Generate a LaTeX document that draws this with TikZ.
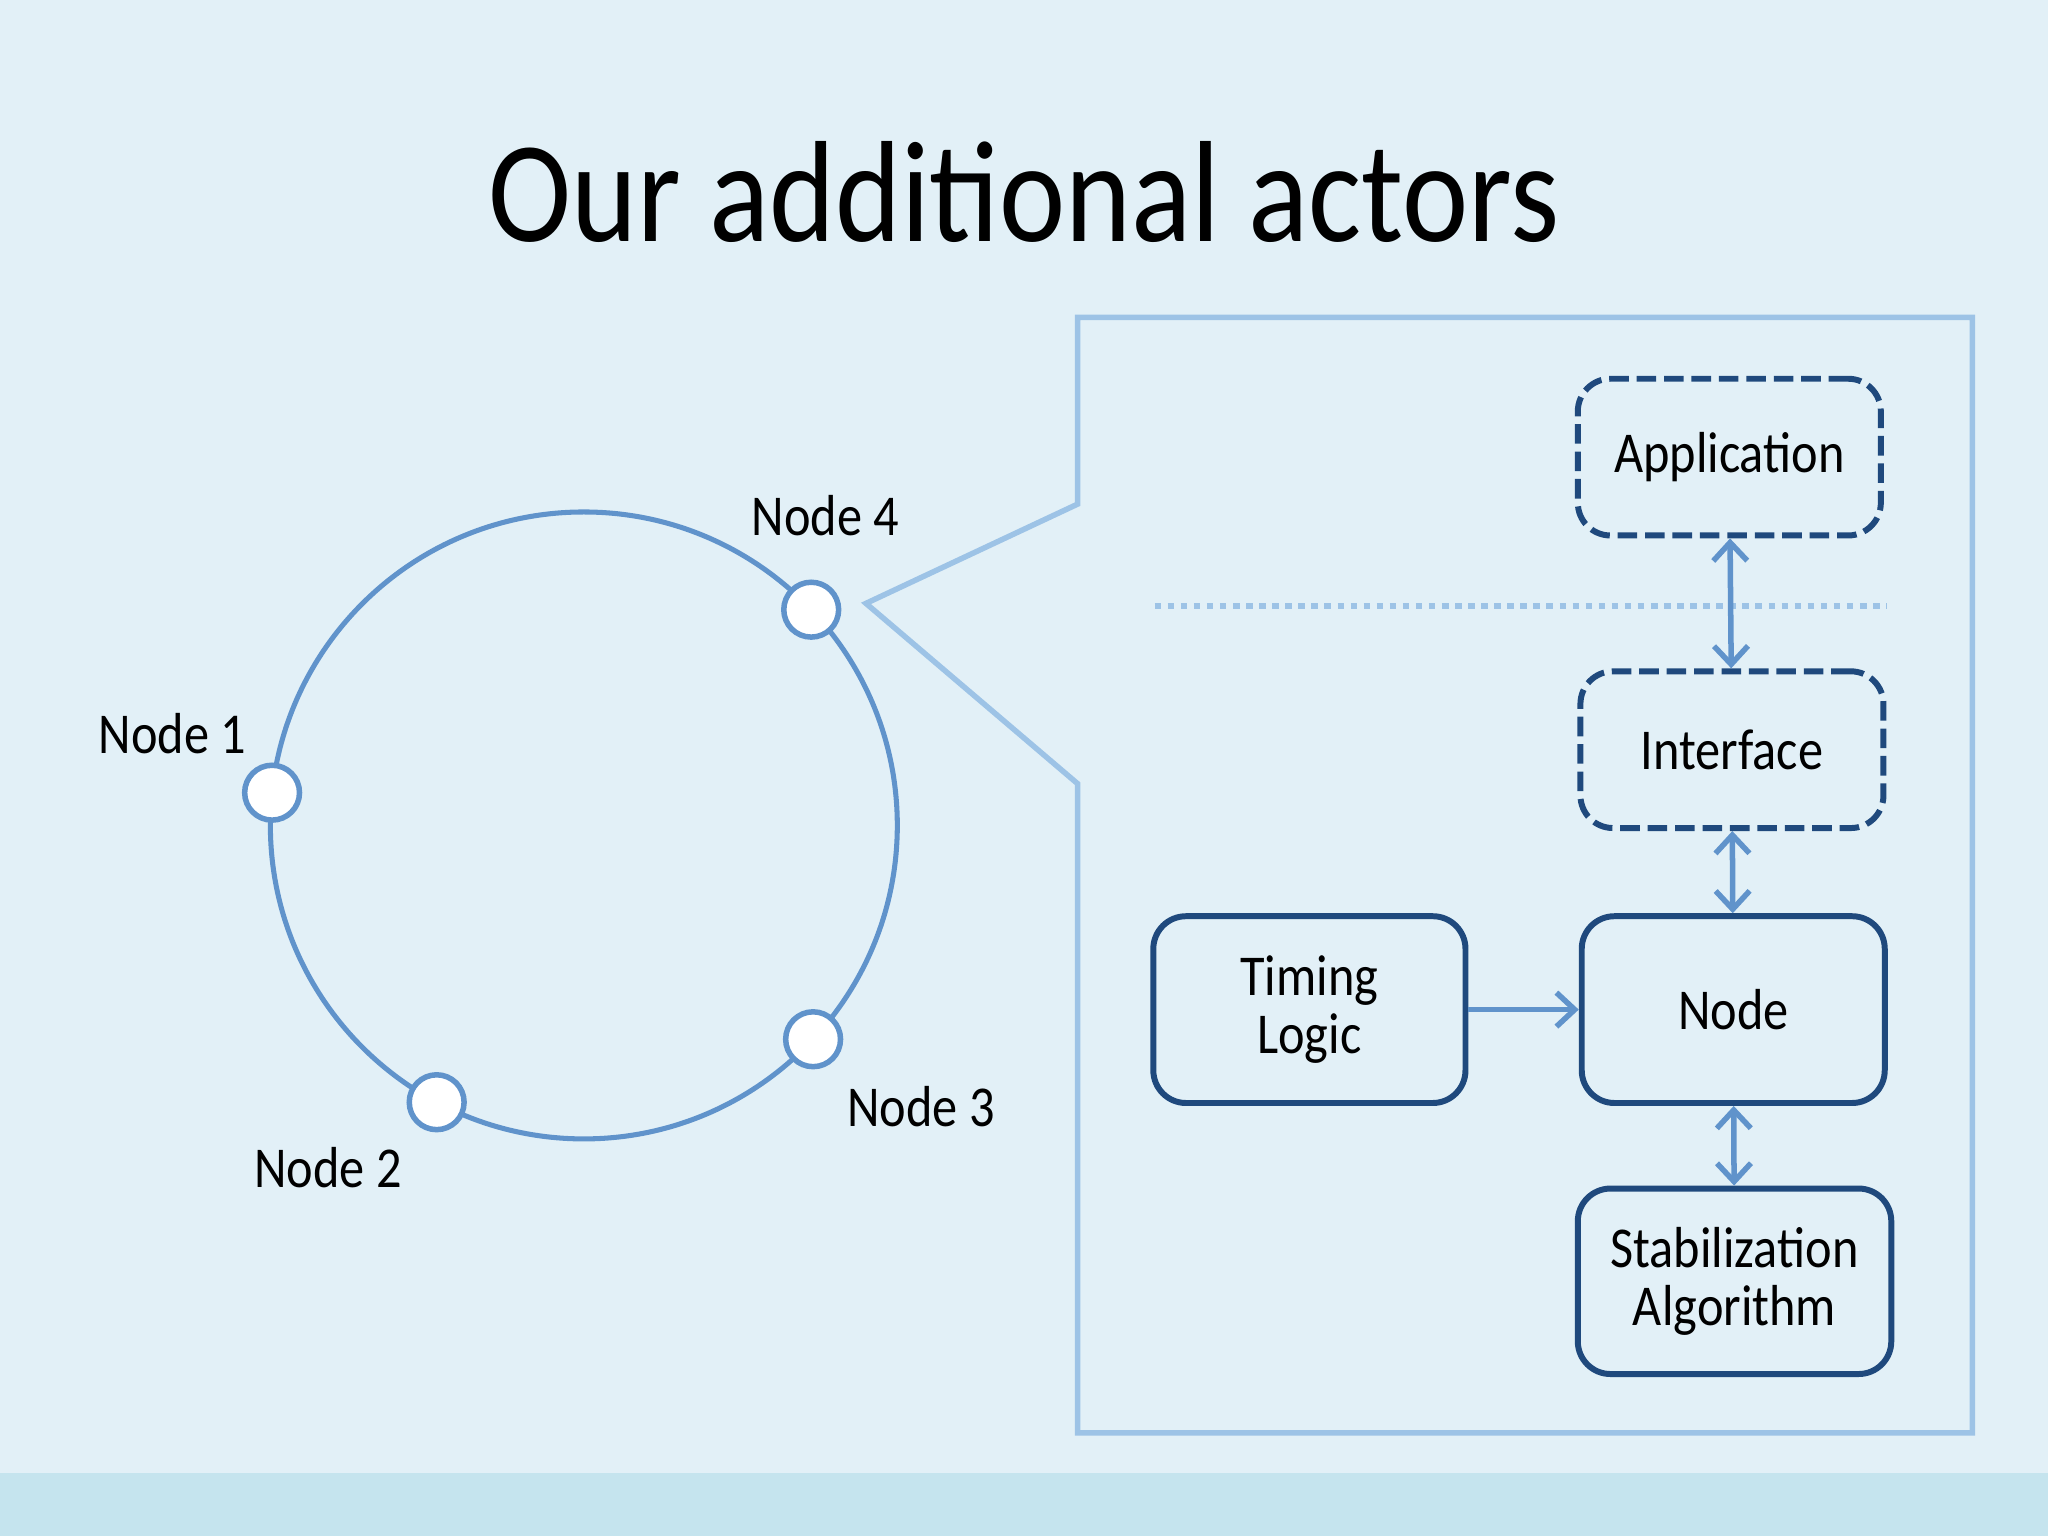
\documentclass[tikz,border=0pt]{standalone}
\usepackage{fontspec}
\setmainfont{Carlito}[FakeStretch=0.87]
\usetikzlibrary{arrows.meta, calc, positioning}
\definecolor{slidebg}{RGB}{226,240,247}
\definecolor{slideband}{RGB}{197,228,238}
\definecolor{ringblue}{RGB}{96,147,203}
\definecolor{callout}{RGB}{157,195,230}
\definecolor{boxblue}{RGB}{31,73,125}

\begin{document}
\begin{tikzpicture}[
        box/.style={draw=boxblue, line width=1.3pt, rounded corners=0.25cm, align=center,
            minimum width=2.32cm, minimum height=1.2cm, font=\fontsize{12.6}{12.8}\selectfont},
        dashbox/.style={box, dash pattern=on 0.15cm off 0.06cm},
        peer/.style={circle, draw=ringblue, fill=white, line width=1.2pt, minimum size=0.42cm, inner sep=0pt},
        lbl/.style={font=\fontsize{12.6}{14}\selectfont},
        link/.style={draw=ringblue, line width=1.2pt, {Straight Barb[length=1.4mm,width=2.6mm]}-{Straight Barb[length=1.4mm,width=2.6mm]}},
    ]
        \useasboundingbox (0,0) rectangle (15.68,11.76);
        \fill[slidebg] (0,0) rectangle (15.68,11.76);
        \fill[slideband] (0,0) rectangle (15.68,0.48);

        \node[anchor=base, font=\fontsize{31.4}{34}\selectfont] (title) at (7.84,9.91) {Our additional actors};

        % the ring
        \coordinate (c) at (4.47,5.44);
        \draw[ringblue, line width=1.1pt] (c) circle (2.40);

        \node[peer] (n1) at ($(c)+(174:2.40)$) {};
        \node[peer] (n2) at ($(c)+(242:2.40)$) {};
        \node[peer] (n3) at ($(c)+(317:2.40)$) {};
        \node[peer] (n4) at ($(c)+(43.5:2.40)$) {};

        \node[lbl] (l1) at (1.32,6.14) {Node 1};
        \node[lbl] (l2) at (2.51,2.82) {Node 2};
        \node[lbl] (l3) at (7.05,3.29) {Node 3};
        \node[lbl] (l4) at (6.32,7.81) {Node 4};

        % zoomed view of node 4
        \draw[callout, line width=1.2pt] (8.25,9.33) -- (15.10,9.33) -- (15.10,0.79) -- (8.25,0.79)
            -- (8.25,5.76) -- (6.63,7.14) -- (8.25,7.90) -- cycle;
        \draw[callout, line width=1.2pt, dash pattern=on 0.05cm off 0.05cm] (8.84,7.12) -- (14.45,7.12);

        \node[dashbox] (app) at (13.24,8.26) {Application};
        \node[dashbox] (intf) at (13.26,6.02) {Interface};
        \node[box, minimum height=1.43cm] (node) at (13.27,4.03) {Node};
        \node[box, minimum height=1.43cm, minimum width=2.39cm] (timing) at (10.025,4.03) {Timing\\Logic};
        \node[box, minimum height=1.42cm, minimum width=2.40cm] (stab) at (13.28,1.95) {Stabilization\\Algorithm};

        \draw[link] (app) -- (intf);
        \draw[link] (intf) -- (node);
        \draw[link] (node) -- (stab);
        \draw[link, -{Straight Barb[length=1.4mm,width=2.6mm]}] (timing) -- (node);
    \end{tikzpicture}
\end{document}
